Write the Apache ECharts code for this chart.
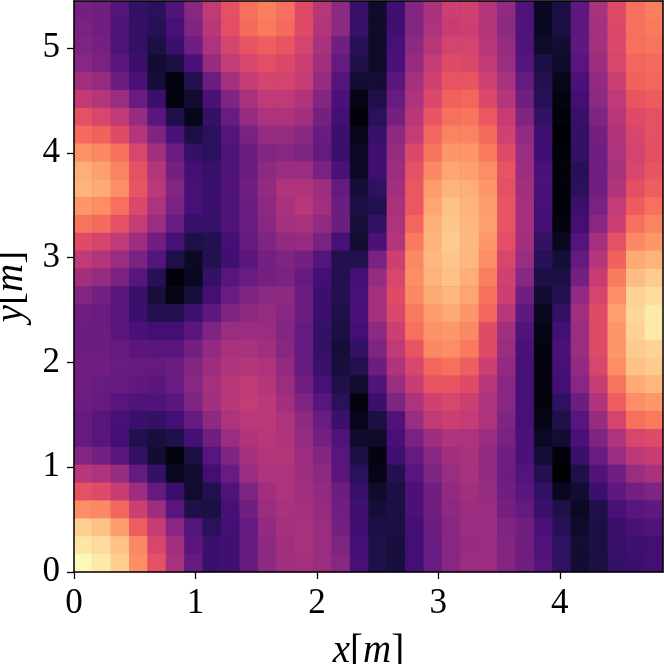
<!DOCTYPE html>
<html><head><meta charset="utf-8">
<style>html,body{margin:0;padding:0;background:#fff}#c{width:664px;height:664px}</style>
<script src="https://cdn.jsdelivr.net/npm/echarts@6/dist/echarts.min.js"></script>
</head><body><div id="c"></div>
<script>
const xTicks=[0,1,2,3,4];
const yTicks=[0,1,2,3,4,5];
const xMax=4.85, yMax=5.45;
const xLabel='x', yLabel='y', unitLabel='m';
// rows listed from the top of the picture to the bottom; values are 0-100 on the colour scale
const rowsLeft=[
[34,33,26,18,16,25,38,52,62,70,73,70,60,50],
[35,33,25,18,15,23,36,50,61,69,72,69,60,49],
[36,34,25,18,12,20,33,47,57,63,66,63,57,46],
[38,35,28,20,9,12,24,41,53,58,61,59,55,44],
[44,41,32,24,10,2,14,32,45,53,57,57,54,41],
[52,49,42,31,20,2,8,24,36,46,52,52,48,37],
[62,58,52,41,28,13,4,18,31,41,47,47,44,34],
[69,67,60,49,36,24,12,16,26,35,41,41,38,31],
[77,75,70,58,44,31,18,16,25,32,37,38,36,30],
[83,80,74,62,49,34,22,19,25,32,39,42,42,35],
[84,82,76,63,51,37,23,20,25,33,40,48,48,43],
[78,76,70,59,47,35,23,20,25,32,39,46,50,44],
[71,69,62,53,42,31,19,19,25,31,38,45,46,40],
[60,57,52,43,33,23,13,14,22,30,36,40,41,35],
[52,49,42,35,26,13,6,14,21,28,34,36,34,26],
[44,41,35,27,15,1,5,18,27,31,34,35,30,22],
[37,34,28,20,11,3,11,22,31,36,39,39,32,20],
[33,31,27,20,14,14,21,29,36,39,41,38,32,20],
[32,32,28,24,22,22,28,36,42,43,42,37,30,18],
[32,32,30,28,27,28,34,40,46,46,44,38,30,18],
[33,33,31,30,30,32,37,43,48,49,47,40,30,20],
[33,31,30,29,28,31,38,45,50,52,49,42,33,23],
[32,30,27,25,25,28,36,44,50,53,51,44,36,27],
[30,27,23,20,18,22,30,39,47,51,51,47,39,31],
[30,27,22,14,11,13,22,33,42,48,50,48,41,34],
[37,34,28,18,9,2,12,27,36,45,49,49,43,37],
[50,47,41,30,18,5,8,22,31,42,47,47,43,39],
[62,60,54,43,30,20,8,14,25,36,44,47,44,40],
[76,75,68,55,43,28,13,12,23,33,42,46,45,41],
[90,87,79,66,54,38,26,16,22,30,40,45,46,42],
[95,93,87,75,58,44,28,20,21,30,39,44,46,42],
[99,96,90,76,62,46,30,20,21,30,39,44,45,42]];
const rowsRight=[
[39,19,7,21,37,46,55,56,49,40,25,5,12,29,46,60,70,73],
[39,19,7,21,37,47,54,55,49,39,25,5,12,29,45,59,70,72],
[33,15,7,23,39,50,57,57,50,41,25,7,9,29,45,59,70,71],
[30,13,7,24,41,53,60,59,52,42,26,12,7,27,43,58,68,69],
[26,9,9,28,45,56,63,63,56,46,30,14,4,24,40,55,67,68],
[24,3,13,31,47,59,67,68,59,49,33,15,2,22,39,52,63,65],
[22,1,16,34,50,63,70,71,64,54,36,18,1,19,36,50,60,62],
[20,4,19,39,53,68,74,74,69,56,40,21,0,18,34,48,58,62],
[20,6,21,41,59,71,78,78,72,60,42,21,1,18,33,47,57,61],
[24,6,21,43,62,75,81,80,76,63,43,24,1,15,33,46,58,63],
[30,10,17,44,64,79,84,83,78,62,44,24,1,16,33,48,61,66],
[32,12,14,46,64,81,87,84,79,63,45,23,1,20,35,53,65,70],
[32,11,18,47,68,83,88,85,80,63,45,22,2,22,38,55,70,74],
[23,9,24,49,72,84,89,85,78,61,44,18,5,26,45,62,75,78],
[14,14,35,55,75,85,88,85,76,58,42,15,10,30,49,67,82,84],
[14,22,41,58,76,84,87,83,73,56,38,12,12,34,54,72,86,89],
[14,23,45,60,75,82,85,81,70,55,33,9,14,40,57,76,91,93],
[13,24,45,59,72,79,82,78,68,50,29,5,18,44,60,80,92,96],
[12,22,39,55,70,77,78,75,60,44,25,3,22,42,60,78,91,96],
[10,18,36,52,63,75,76,72,60,42,24,2,24,42,60,78,89,91],
[11,14,32,48,58,68,70,66,55,40,23,2,23,40,58,76,87,89],
[13,8,25,42,54,63,63,60,50,38,23,2,22,38,54,71,82,85],
[16,2,20,36,47,56,58,55,47,38,23,2,17,32,48,66,76,78],
[20,4,12,25,42,52,55,53,47,36,23,3,13,27,41,57,70,72],
[25,7,7,23,35,43,48,47,42,35,24,6,9,24,36,48,58,60],
[27,12,2,21,30,38,44,46,40,33,24,10,1,20,31,42,51,54],
[28,16,3,14,27,36,42,46,40,32,26,14,0,13,25,33,42,46],
[32,19,7,12,24,33,40,44,41,33,28,18,5,9,20,29,34,36],
[33,21,10,12,24,33,39,43,42,34,30,20,13,6,13,23,27,29],
[34,21,12,12,22,32,38,42,42,36,33,24,15,7,12,20,23,25],
[36,22,13,11,22,31,38,41,42,37,33,25,17,9,12,19,21,22],
[38,23,13,11,22,31,38,42,43,37,33,26,17,9,12,18,20,22]];
const magma=['#000004','#0b0924','#180f3d','#2d1160','#440f76','#5a167e','#721f81','#8c2981','#a3307e','#b73779','#cd4071','#e34e65','#f1605d','#f97b5d','#fd9668','#feb078','#fec98d','#fde2a3','#fcfdbf'];

const rows=rowsLeft.map((r,i)=>r.concat(rowsRight[i]));
const n=rows.length, m=rows[0].length;
const cells=[];
rows.forEach((r,i)=>r.forEach((v,j)=>cells.push([j,n-1-i,v])));
const serif='"Liberation Serif",serif';
const ink='#000';
const nameRich={i:{fontFamily:serif,fontStyle:'italic',fontSize:39,color:ink},u:{fontFamily:serif,fontSize:39,color:ink}};
const axisName=s=>`{i|${s}}{u|[}{i|${unitLabel}}{u|]}`;
const lineStyle={color:ink,width:1.5};
const chart=echarts.init(document.getElementById('c'),null,{renderer:'canvas'});
chart.setOption({
 animation:false,
 grid:{left:74,top:1,right:1,bottom:92,containLabel:false,outerBoundsMode:'none',show:true,borderWidth:0,backgroundColor:'#7a2181'},
 visualMap:{show:false,min:0,max:100,inRange:{color:magma},dimension:2,seriesIndex:0},
 xAxis:[
  {type:'category',position:'top',data:Array.from({length:m},(_,i)=>i),z:10,axisLine:{show:true,onZero:false,lineStyle},axisTick:{show:false},axisLabel:{show:false},splitLine:{show:false}},
  {type:'value',position:'bottom',min:0,max:xMax,z:10,
   axisLine:{show:true,onZero:false,lineStyle},
   axisTick:{show:true,length:7,customValues:xTicks,lineStyle:{color:ink,width:1.3}},
   axisLabel:{show:true,customValues:xTicks,margin:14,fontFamily:serif,fontSize:35,color:ink},
   splitLine:{show:false},
   name:axisName(xLabel),nameLocation:'middle',nameGap:60,nameTextStyle:{rich:nameRich}}
 ],
 yAxis:[
  {type:'category',position:'right',data:Array.from({length:n},(_,i)=>i),z:10,axisLine:{show:true,onZero:false,lineStyle},axisTick:{show:false},axisLabel:{show:false},splitLine:{show:false}},
  {type:'value',position:'left',min:0,max:yMax,z:10,
   axisLine:{show:true,onZero:false,lineStyle},
   axisTick:{show:true,length:7,customValues:yTicks,lineStyle:{color:ink,width:1.3}},
   axisLabel:{show:true,customValues:yTicks,margin:14,fontFamily:serif,fontSize:35,color:ink},
   splitLine:{show:false},
   name:axisName(yLabel),nameLocation:'middle',nameGap:40,nameRotate:90,nameTextStyle:{rich:nameRich}}
 ],
 series:[{type:'heatmap',xAxisIndex:0,yAxisIndex:0,data:cells,itemStyle:{borderWidth:0},emphasis:{disabled:true},progressive:0}]
});
</script></body></html>
